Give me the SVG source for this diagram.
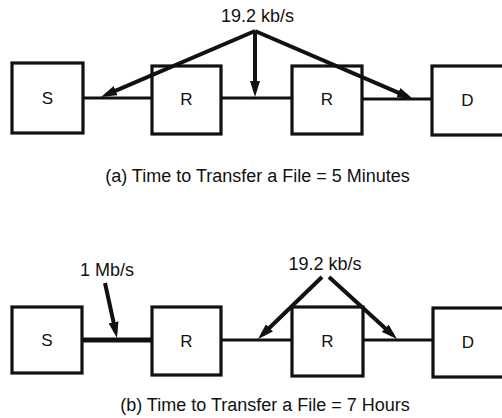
<svg xmlns="http://www.w3.org/2000/svg" width="502" height="418" viewBox="0 0 502 418">
<style>
.box{fill:#fff;stroke:#111;stroke-width:3.2}
.lbl{font-family:"Liberation Sans",Arial,sans-serif;font-size:17px;fill:#111;text-anchor:middle}
.txt{font-family:"Liberation Sans",Arial,sans-serif;font-size:18px;fill:#111}
.link{stroke:#111;stroke-width:3;fill:none}
.thick{stroke:#111;stroke-width:5;fill:none}
.arr{stroke:#111;stroke-width:4;fill:none;marker-end:url(#ah)}
</style>
<defs>
<marker id="ah" viewBox="0 0 16 10" refX="10" refY="5" markerWidth="16" markerHeight="10" markerUnits="userSpaceOnUse" orient="auto">
<path d="M0,0 L16,5 L0,10 Z" fill="#111"/>
</marker>
</defs>
<rect width="502" height="418" fill="#fff"/>
<g id="connectors">
<line class="link" x1="83" y1="98" x2="152" y2="98"/>
<line class="link" x1="221" y1="98" x2="292" y2="98"/>
<line class="link" x1="362" y1="99" x2="432" y2="99"/>
<line class="thick" x1="82" y1="340" x2="152" y2="340"/>
<line class="link" x1="221" y1="340" x2="292" y2="340"/>
<line class="link" x1="363" y1="340" x2="433" y2="340"/>
</g>
<g id="a-S"><rect class="box" x="12" y="63" width="71" height="70"/><text class="lbl" x="47.5" y="104">S</text></g>
<g id="a-R1"><rect class="box" x="152" y="66" width="69" height="68"/><text class="lbl" x="186.5" y="105">R</text></g>
<g id="a-R2"><rect class="box" x="292" y="66" width="70" height="68"/><text class="lbl" x="327" y="105">R</text></g>
<g id="a-D"><rect class="box" x="432" y="66" width="74" height="69"/><text class="lbl" x="467.5" y="106">D</text></g>
<g id="b-S"><rect class="box" x="12" y="307" width="70" height="66"/><text class="lbl" x="47" y="346">S</text></g>
<g id="b-R1"><rect class="box" x="152" y="307" width="69" height="68"/><text class="lbl" x="186.5" y="347">R</text></g>
<g id="b-R2"><rect class="box" x="292" y="307" width="71" height="69"/><text class="lbl" x="327.5" y="347">R</text></g>
<g id="b-D"><rect class="box" x="433" y="308" width="73" height="69"/><text class="lbl" x="468" y="348">D</text></g>
<g id="arrows">
<line class="arr" x1="255" y1="31" x2="106.5" y2="94.6"/>
<line class="arr" x1="255" y1="31" x2="255" y2="91"/>
<line class="arr" x1="255" y1="31" x2="407.5" y2="96.6"/>
<line class="arr" x1="105" y1="283" x2="115.7" y2="332.1"/>
<line class="arr" x1="322" y1="277" x2="262.3" y2="334.8"/>
<line class="arr" x1="329" y1="277" x2="392.6" y2="335"/>
</g>
<g id="labels">
<text class="txt" x="257.5" y="22" text-anchor="middle">19.2 kb/s</text>
<text class="txt" x="325" y="270" text-anchor="middle">19.2 kb/s</text>
<text class="txt" x="80" y="276">1 Mb/s</text>
<text class="txt" x="257.5" y="182" text-anchor="middle">(a) Time to Transfer a File = 5 Minutes</text>
<text class="txt" x="265" y="411" text-anchor="middle">(b) Time to Transfer a File = 7 Hours</text>
</g>
</svg>
